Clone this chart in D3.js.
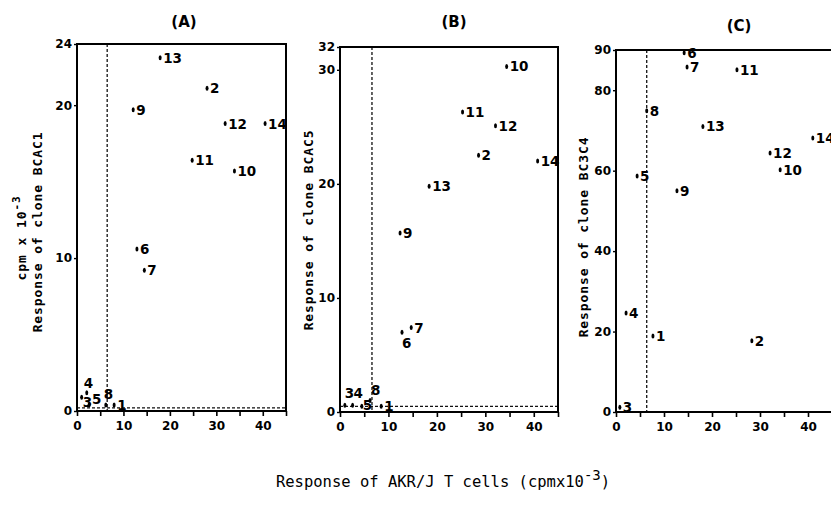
<!DOCTYPE html>
<html>
<head>
<meta charset="utf-8">
<script src="https://cdn.jsdelivr.net/npm/d3@7"></script>
<style>
  body { margin: 0; background: #fff; }
  svg { display: block; }
  .tick text { font-family: "DejaVu Sans", sans-serif; font-weight: bold; font-size: 12px; }
</style>
</head>
<body>
<svg id="canvas" width="831" height="511"></svg>
<script>
// clone numbers, same order in every panel
let clones = [1, 2, 3, 4, 5, 6, 7, 8, 9, 10, 11, 12, 13, 14];

// response of AKR/J T cells (x) and of each clone (y), cpm x 10^-3
let xA = [8.0, 28.0, 1.0, 2.1, 2.6, 12.9, 14.5, 6.2, 12.1, 33.9, 24.8, 31.9, 17.9, 40.5];
let yA = [0.4, 21.1, 0.9, 1.2, 0.4, 10.6, 9.2, 0.4, 19.7, 15.7, 16.4, 18.8, 23.1, 18.8];

let xB = [8.5, 28.6, 1.0, 2.6, 4.5, 12.8, 14.7, 6.2, 12.4, 34.4, 25.3, 32.1, 18.4, 40.8];
let yB = [0.5, 22.5, 0.6, 0.6, 0.5, 7.0, 7.4, 1.0, 15.7, 30.3, 26.3, 25.1, 19.8, 22.0];

let xC = [7.7, 28.3, 0.8, 2.1, 4.4, 14.2, 14.8, 6.4, 12.7, 34.2, 25.2, 32.1, 18.1, 41.0];
let yC = [18.9, 17.7, 1.2, 24.6, 58.7, 89.3, 85.8, 74.9, 55.0, 60.2, 85.1, 64.4, 71.0, 68.1];

let titles = ["(A)", "(B)", "(C)"];
let yLabels = ["Response of clone BCAC1", "Response of clone BCAC5", "Response of clone BC3C4"];
let yMax = [24, 32, 90];
let yTicksA = [0, 10, 20, 24];
let yTicksB = [0, 10, 20, 30, 32];
let yTicksC = [0, 20, 40, 60, 80, 90];
let xTicks = [0, 5, 10, 15, 20, 25, 30, 35, 40, 45];
let xTickLabels = [0, 10, 20, 30, 40];
let cutX = [6.5, 6.6, 6.4];
let cutY = [0.2, 0.5, null];

// label placement tweaks for crowded points (dx, dy from the dot)
let spotsA = { 4: [-3, -5], 3: [1, 10], 5: [3, -1], 8: [-2, -6] };
let spotsB = { 3: [0, -7], 4: [1, -7], 8: [1, -6], 6: [0, 16], 5: [1, 4], 1: [3, 5] };
let spotsC = {};

let canvas = d3.select("#canvas");

let panels = [
  { l: 77, r: 286, t: 44, b: 411, xs: xA, ys: yA, yt: yTicksA, spots: spotsA, labX: 42, labY: 232, tx: 184, ty: 27 },
  { l: 340, r: 558, t: 47, b: 412, xs: xB, ys: yB, yt: yTicksB, spots: spotsB, labX: 313, labY: 230, tx: 454, ty: 27 },
  { l: 616, r: 832, t: 50, b: 412, xs: xC, ys: yC, yt: yTicksC, spots: spotsC, labX: 588, labY: 237, tx: 739, ty: 31 }
];

let drawPanel = (p, i) => {
  let x = d3.scaleLinear().domain([0, 45]).range([p.l, p.r]);
  let y = d3.scaleLinear().domain([0, yMax[i]]).range([p.b, p.t]);
  let g = canvas.append("g");

  // dashed cut-off lines
  g.append("line")
    .attr("x1", x(cutX[i])).attr("x2", x(cutX[i]))
    .attr("y1", y(yMax[i])).attr("y2", y(0))
    .attr("stroke", "#111").attr("stroke-width", 1.3)
    .attr("stroke-dasharray", "3,2");
  if (cutY[i] !== null) {
    g.append("line")
      .attr("x1", x(0)).attr("x2", x(45))
      .attr("y1", y(cutY[i])).attr("y2", y(cutY[i]))
      .attr("stroke", "#111").attr("stroke-width", 1.3)
      .attr("stroke-dasharray", "3,2");
  }

  // frame
  g.append("rect")
    .attr("x", p.l).attr("y", p.t)
    .attr("width", p.r - p.l).attr("height", p.b - p.t)
    .attr("fill", "none").attr("stroke", "#000").attr("stroke-width", 2);

  // axes
  let xAxis = d3.axisBottom(x).tickValues(xTicks).tickSize(5).tickPadding(5)
    .tickFormat((d) => xTickLabels.includes(d) ? d : "");
  let gx = g.append("g").attr("transform", "translate(0," + p.b + ")").call(xAxis);
  gx.select(".domain").remove();
  gx.selectAll("line").attr("stroke-width", 1.6);
  gx.selectAll("text").attr("font-size", 13.5);

  let yAxis = d3.axisLeft(y).tickValues(p.yt).tickSize(3).tickPadding(2);
  let gy = g.append("g").attr("transform", "translate(" + p.l + ",0)").call(yAxis);
  gy.select(".domain").remove();
  gy.selectAll("line").attr("stroke-width", 1.4);
  gy.selectAll("text").attr("font-size", 13.5);

  // points and clone numbers
  let pts = g.selectAll(".pt").data(clones).enter().append("g").attr("class", "pt")
    .attr("transform", (c, k) => "translate(" + x(p.xs[k]) + "," + y(p.ys[k]) + ")");
  pts.append("ellipse").attr("rx", 1.5).attr("ry", 2.5).attr("fill", "#000");
  pts.append("text")
    .attr("x", (c) => p.spots[c] ? p.spots[c][0] : 3)
    .attr("y", (c) => p.spots[c] ? p.spots[c][1] : 5)
    .attr("font-family", "DejaVu Sans, sans-serif")
    .attr("font-weight", "bold")
    .attr("font-size", 13.5)
    .text((c) => c);

  // title
  canvas.append("text")
    .attr("x", p.tx)
    .attr("y", p.ty)
    .attr("text-anchor", "middle")
    .attr("font-family", "DejaVu Sans, sans-serif")
    .attr("font-weight", "bold")
    .attr("font-size", 15)
    .text(titles[i]);

  // y label
  canvas.append("text")
    .attr("transform", "translate(" + p.labX + "," + p.labY + ") rotate(-90)")
    .attr("text-anchor", "middle")
    .attr("font-family", "DejaVu Sans Mono, monospace")
    .attr("font-weight", "bold")
    .attr("font-size", 13)
    .attr("letter-spacing", 0.9)
    .text(yLabels[i]);
};

panels.forEach(drawPanel);

// units label beside panel A
let unit = canvas.append("text")
  .attr("transform", "translate(26,238) rotate(-90)")
  .attr("text-anchor", "middle")
  .attr("font-family", "DejaVu Sans Mono, monospace")
  .attr("font-weight", "bold")
  .attr("font-size", 13)
  .attr("letter-spacing", 0.9);
unit.append("tspan").text("cpm x 10");
unit.append("tspan").attr("dy", -6).attr("font-size", 11).text("-3");

// common x label
let xl = canvas.append("text")
  .attr("x", 443).attr("y", 487)
  .attr("text-anchor", "middle")
  .attr("font-family", "DejaVu Sans Mono, monospace")
  .attr("font-size", 15.5);
xl.append("tspan").text("Response of AKR/J T cells  (cpmx10");
xl.append("tspan").attr("dy", -7).attr("font-size", 14).text("-3");
xl.append("tspan").attr("dy", 7).text(")");
</script>
</body>
</html>
